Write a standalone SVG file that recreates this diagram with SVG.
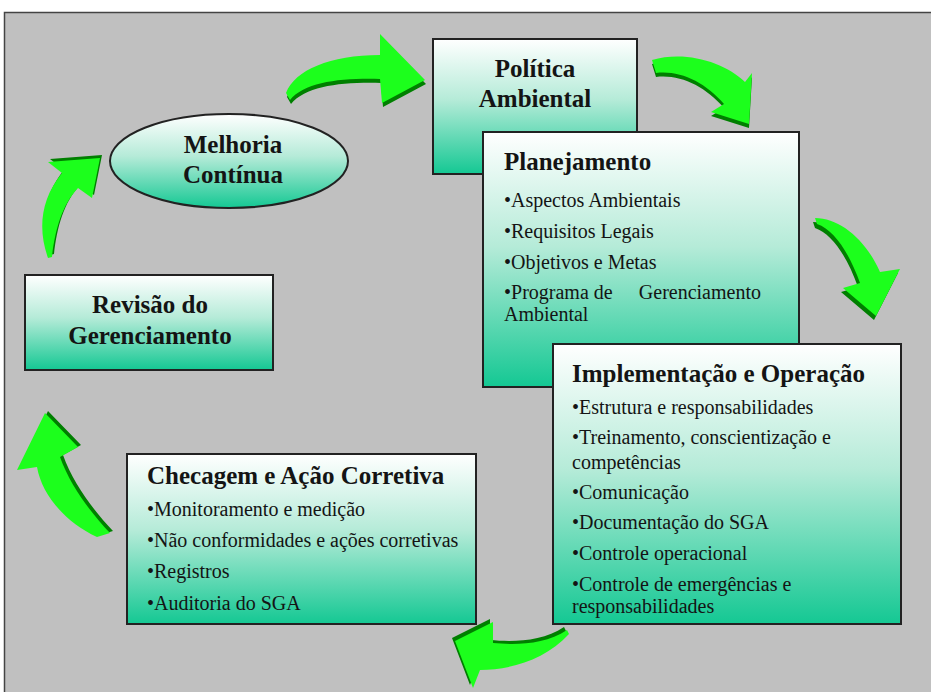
<svg xmlns="http://www.w3.org/2000/svg" width="931" height="692" viewBox="0 0 931 692">
  <defs>
    <linearGradient id="boxFill" x1="0" y1="0" x2="0" y2="1">
      <stop offset="0" stop-color="#ffffff"/>
      <stop offset="0.45" stop-color="#b5ebd8"/>
      <stop offset="1" stop-color="#14c893"/>
    </linearGradient>
    <style>
      .box { fill: url(#boxFill); stroke: #222; stroke-width: 2; }
      .title { font-family: "Liberation Serif", "DejaVu Serif", serif; font-weight: bold; font-size: 25px; fill: #141414; }
      .item { font-family: "Liberation Serif", "DejaVu Serif", serif; font-size: 20px; fill: #141414; }
      .mid { text-anchor: middle; }
      .arrow-top { fill: #1cff1c; }
      .arrow-side { fill: #007f00; }
    </style>
  </defs>

  <rect x="0" y="0" width="931" height="692" fill="#ffffff"/>
  <rect x="4.5" y="12.5" width="935" height="690" fill="#c0c0c0" stroke="#444" stroke-width="1.5"/>

  <!-- curved arrows of the cycle: dark extruded side under a bright face -->
  <g id="connectors">
    <g id="arrow-melhoria-politica">
      <path class="arrow-side" transform="translate(1,4)" d="M286,93 C295,70 330,55 380,55 L380,34 L425,80 L382,103 L380,79 C340,78 305,82 290,100 Z"/>
      <path class="arrow-top" d="M286,93 C295,70 330,55 380,55 L380,34 L425,80 L382,103 L380,79 C340,78 305,82 290,100 Z"/>
    </g>
    <g id="arrow-politica-planejamento">
      <path class="arrow-side" transform="translate(0,4)" d="M652,60 C685,50 725,62 745,82 L752,73 L749,124 L711,112 L724,104 C705,82 680,70 656,73 Z"/>
      <path class="arrow-top" d="M652,60 C685,50 725,62 745,82 L752,73 L749,124 L711,112 L724,104 C705,82 680,70 656,73 Z"/>
    </g>
    <g id="arrow-planejamento-implementacao">
      <path class="arrow-side" transform="translate(-2,4)" d="M815,218 C840,218 866,240 880,272 L900,269 L876,316 L843,288 L860,283 C850,255 835,230 817,224 Z"/>
      <path class="arrow-top" d="M815,218 C840,218 866,240 880,272 L900,269 L876,316 L843,288 L860,283 C850,255 835,230 817,224 Z"/>
    </g>
    <g id="arrow-implementacao-checagem">
      <path class="arrow-side" transform="translate(-3,-3)" d="M567,630 C545,645 515,645 493,643 L493,622 L455,641 L473,688 L480,670 C510,670 545,660 569,634 Z"/>
      <path class="arrow-top" d="M567,630 C545,645 515,645 493,643 L493,622 L455,641 L473,688 L480,670 C510,670 545,660 569,634 Z"/>
    </g>
    <g id="arrow-checagem-revisao">
      <path class="arrow-side" transform="translate(3,-2)" d="M110,533 C90,512 70,485 60,457 L78,447 L45,413 L17,470 L37,467 C42,495 65,522 97,537 Z"/>
      <path class="arrow-top" d="M110,533 C90,512 70,485 60,457 L78,447 L45,413 L17,470 L37,467 C42,495 65,522 97,537 Z"/>
    </g>
    <g id="arrow-revisao-melhoria">
      <path class="arrow-side" transform="translate(2,-3)" d="M48,258 C38,230 40,200 62,173 L48,162 L100,158 L92,198 L78,188 C62,205 55,230 52,257 Z"/>
      <path class="arrow-top" d="M48,258 C38,230 40,200 62,173 L48,162 L100,158 L92,198 L78,188 C62,205 55,230 52,257 Z"/>
    </g>
  </g>

  <g id="melhoria">
    <ellipse class="box" cx="229" cy="161" rx="119" ry="47" stroke-width="1.5"/>
    <text class="title mid" x="233" y="153">Melhoria</text>
    <text class="title mid" x="233" y="183">Contínua</text>
  </g>

  <g id="politica">
    <rect class="box" x="433" y="39" width="204" height="135"/>
    <text class="title mid" x="535" y="77">Política</text>
    <text class="title mid" x="535" y="107">Ambiental</text>
  </g>

  <g id="planejamento">
    <rect class="box" x="483" y="132" width="316" height="255"/>
    <text class="title" x="504" y="170">Planejamento</text>
    <text class="item" x="504" y="207">•Aspectos Ambientais</text>
    <text class="item" x="504" y="238">•Requisitos Legais</text>
    <text class="item" x="504" y="269">•Objetivos e Metas</text>
    <text class="item" x="504" y="299">•Programa de</text>
    <text class="item" x="761" y="299" text-anchor="end">Gerenciamento</text>
    <text class="item" x="504" y="321">Ambiental</text>
  </g>

  <g id="implementacao">
    <rect class="box" x="553" y="344" width="348" height="280"/>
    <text class="title" x="572" y="382">Implementação e Operação</text>
    <text class="item" x="572" y="414">•Estrutura e responsabilidades</text>
    <text class="item" x="572" y="444">•Treinamento, conscientização e</text>
    <text class="item" x="572" y="469">competências</text>
    <text class="item" x="572" y="499">•Comunicação</text>
    <text class="item" x="572" y="529">•Documentação do SGA</text>
    <text class="item" x="572" y="560">•Controle operacional</text>
    <text class="item" x="572" y="591">•Controle de emergências e</text>
    <text class="item" x="572" y="613">responsabilidades</text>
  </g>

  <g id="checagem">
    <rect class="box" x="127" y="454" width="349" height="170"/>
    <text class="title" x="147" y="484">Checagem e Ação Corretiva</text>
    <text class="item" x="147" y="516">•Monitoramento e medição</text>
    <text class="item" x="147" y="547">•Não conformidades e ações corretivas</text>
    <text class="item" x="147" y="578">•Registros</text>
    <text class="item" x="147" y="610">•Auditoria do SGA</text>
  </g>

  <g id="revisao">
    <rect class="box" x="25" y="275" width="248" height="95"/>
    <text class="title mid" x="150" y="313">Revisão do</text>
    <text class="title mid" x="150" y="344">Gerenciamento</text>
  </g>
</svg>
